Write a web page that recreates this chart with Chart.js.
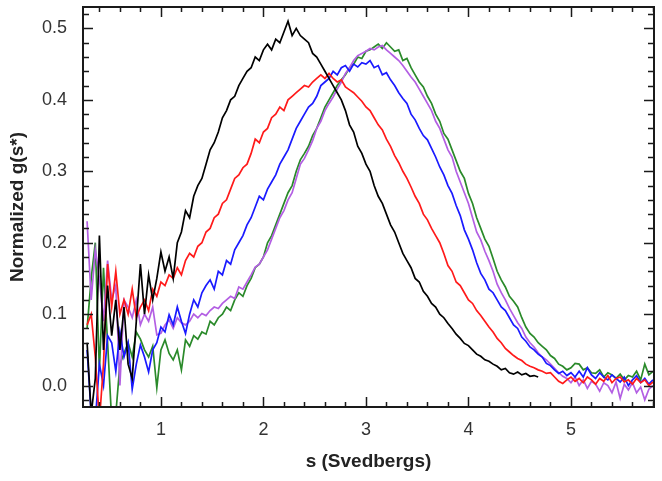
<!DOCTYPE html>
<html>
<head>
<meta charset="utf-8">
<script src="https://cdn.jsdelivr.net/npm/chart.js@4.4.1/dist/chart.umd.min.js"></script>
<style>
  html, body { margin: 0; padding: 0; background: #fff; }
  #wrap { width: 662px; height: 481px; }
</style>
</head>
<body>
<div id="wrap"><canvas id="chart" width="662" height="481"></canvas></div>
<script>
// sedimentation coefficient grid (S)
const sValues = [
  0.28, 0.32, 0.36, 0.40, 0.44, 0.48, 0.52, 0.56, 0.60, 0.64,
  0.68, 0.72, 0.76, 0.80, 0.84, 0.88, 0.92, 0.96, 1.00, 1.04,
  1.08, 1.12, 1.16, 1.20, 1.24, 1.28, 1.32, 1.36, 1.40, 1.44,
  1.48, 1.52, 1.56, 1.60, 1.64, 1.68, 1.72, 1.76, 1.80, 1.84,
  1.88, 1.92, 1.96, 2.00, 2.04, 2.08, 2.12, 2.16, 2.20, 2.24,
  2.28, 2.32, 2.36, 2.40, 2.44, 2.48, 2.52, 2.56, 2.60, 2.64,
  2.68, 2.72, 2.76, 2.80, 2.84, 2.88, 2.92, 2.96, 3.00, 3.04,
  3.08, 3.12, 3.16, 3.20, 3.24, 3.28, 3.32, 3.36, 3.40, 3.44,
  3.48, 3.52, 3.56, 3.60, 3.64, 3.68, 3.72, 3.76, 3.80, 3.84,
  3.88, 3.92, 3.96, 4.00, 4.04, 4.08, 4.12, 4.16, 4.20, 4.24,
  4.28, 4.32, 4.36, 4.40, 4.44, 4.48, 4.52, 4.56, 4.60, 4.64,
  4.68, 4.72, 4.76, 4.80, 4.84, 4.88, 4.92, 4.96, 5.00, 5.04,
  5.08, 5.12, 5.16, 5.20, 5.24, 5.28, 5.32, 5.36, 5.40, 5.44,
  5.48, 5.52, 5.56, 5.60, 5.64, 5.68, 5.72, 5.76, 5.80
];

const blackCurve = [
  0.06, -0.04, 0.01, 0.21, 0.05, 0.14, 0.07, 0.12, 0.05, 0.11,
  0.03, 0.01, 0.09, 0.17, 0.10, 0.155, 0.12, 0.15, 0.187, 0.16,
  0.18, 0.15, 0.20, 0.215, 0.245, 0.235, 0.265, 0.28, 0.29, 0.31,
  0.33, 0.34, 0.355, 0.375, 0.385, 0.40, 0.405, 0.42, 0.43, 0.44,
  0.445, 0.46, 0.455, 0.47, 0.478, 0.47, 0.485, 0.48, 0.495, 0.51,
  0.49, 0.50, 0.49, 0.485, 0.48, 0.465, 0.46, 0.45, 0.44, 0.43,
  0.42, 0.41, 0.40, 0.385, 0.365, 0.355, 0.335, 0.325, 0.31, 0.30,
  0.28, 0.265, 0.255, 0.24, 0.225, 0.215, 0.20, 0.185, 0.175, 0.165,
  0.15, 0.145, 0.132, 0.125, 0.115, 0.11, 0.10, 0.095, 0.087, 0.08,
  0.072, 0.066, 0.059, 0.056, 0.05, 0.044, 0.041, 0.036, 0.034, 0.03,
  0.027, 0.022, 0.024, 0.018, 0.016, 0.019, 0.015, 0.017, 0.013, 0.014,
  0.012, null, null, null, null, null, null, null, null, null,
  null, null, null, null, null, null, null, null, null, null,
  null, null, null, null, null, null, null, null, null
];

const redCurve = [
  0.085, 0.10, 0.04, -0.05, 0.03, 0.17, 0.11, 0.16, 0.10, 0.12,
  0.10, 0.135, 0.095, 0.11, 0.12, 0.105, 0.135, 0.125, 0.145, 0.14,
  0.155, 0.15, 0.165, 0.155, 0.175, 0.185, 0.18, 0.195, 0.20, 0.215,
  0.22, 0.235, 0.24, 0.255, 0.26, 0.275, 0.29, 0.295, 0.305, 0.31,
  0.325, 0.345, 0.34, 0.355, 0.36, 0.375, 0.38, 0.39, 0.385, 0.40,
  0.405, 0.41, 0.415, 0.42, 0.418, 0.425, 0.43, 0.435, 0.43, 0.437,
  0.43, 0.425, 0.428, 0.418, 0.414, 0.41, 0.404, 0.398, 0.39, 0.385,
  0.375, 0.365, 0.358, 0.345, 0.335, 0.322, 0.312, 0.30, 0.29, 0.278,
  0.265, 0.255, 0.24, 0.232, 0.22, 0.21, 0.20, 0.185, 0.168, 0.16,
  0.145, 0.14, 0.13, 0.12, 0.115, 0.105, 0.098, 0.09, 0.082, 0.075,
  0.066, 0.06, 0.052, 0.047, 0.042, 0.038, 0.035, 0.03, 0.027, 0.025,
  0.022, 0.02, 0.017, 0.018, 0.012, 0.006, 0.003, 0.008, 0.012, 0.006,
  0.01, 0.004, 0.012, 0.008, 0.002, 0.01, 0.006, 0.014, 0.004, 0.01,
  0.012, 0.005, 0.008, 0.002, 0.01, 0.004, 0.008, 0.0, 0.005
];

const blueCurve = [
  0.05, -0.04, -0.05, 0.03, 0.0, 0.07, 0.06, 0.02, 0.075, 0.04,
  0.06, -0.005, 0.03, 0.057, 0.04, 0.019, 0.05, 0.06, 0.082, 0.075,
  0.099, 0.085, 0.11, 0.09, 0.073, 0.10, 0.12, 0.11, 0.13, 0.14,
  0.148, 0.135, 0.16, 0.155, 0.175, 0.17, 0.19, 0.20, 0.21, 0.225,
  0.235, 0.25, 0.265, 0.26, 0.275, 0.285, 0.295, 0.31, 0.32, 0.33,
  0.345, 0.36, 0.37, 0.38, 0.39, 0.395, 0.405, 0.42, 0.425, 0.43,
  0.44, 0.435, 0.445, 0.448, 0.44, 0.45, 0.446, 0.452, 0.45, 0.455,
  0.445, 0.448, 0.435, 0.438, 0.428, 0.42, 0.41, 0.402, 0.395, 0.38,
  0.372, 0.36, 0.35, 0.344, 0.332, 0.32, 0.306, 0.295, 0.28, 0.269,
  0.252, 0.238, 0.218, 0.205, 0.19, 0.172, 0.157, 0.148, 0.135, 0.13,
  0.12, 0.11, 0.105, 0.095, 0.085, 0.08, 0.068, 0.062, 0.054, 0.05,
  0.044, 0.04, 0.031, 0.028, 0.022, 0.017, 0.02, 0.014, 0.018, 0.012,
  0.02, 0.012, 0.025, 0.015, 0.01, 0.018, 0.012, 0.008, 0.015, 0.01,
  0.005, 0.012, 0.0, 0.008, 0.014, 0.004, 0.01, 0.002, 0.008
];

const greenCurve = [
  0.08, 0.15, 0.20, 0.02, 0.165, 0.06, -0.05, -0.04, 0.03, 0.045,
  0.06, 0.04, 0.075, 0.065, 0.05, 0.04, 0.055, -0.003, 0.05, 0.064,
  0.045, 0.036, 0.05, 0.022, 0.064, 0.055, 0.07, 0.065, 0.075, 0.072,
  0.09, 0.085, 0.095, 0.10, 0.11, 0.105, 0.12, 0.13, 0.125, 0.14,
  0.15, 0.165, 0.17, 0.18, 0.20, 0.21, 0.225, 0.24, 0.255, 0.27,
  0.28, 0.30, 0.316, 0.325, 0.335, 0.35, 0.36, 0.375, 0.39, 0.40,
  0.41, 0.42, 0.428, 0.435, 0.445, 0.45, 0.46, 0.458, 0.468, 0.47,
  0.474, 0.478, 0.472, 0.48, 0.474, 0.468, 0.47, 0.455, 0.458, 0.445,
  0.435, 0.425, 0.418, 0.405, 0.395, 0.38, 0.37, 0.353, 0.345, 0.33,
  0.315, 0.30, 0.29, 0.269, 0.255, 0.235, 0.22, 0.205, 0.195, 0.178,
  0.16, 0.148, 0.138, 0.125, 0.118, 0.11, 0.095, 0.082, 0.073, 0.068,
  0.06, 0.055, 0.05, 0.042, 0.038, 0.03, 0.027, 0.022, 0.025, 0.031,
  0.03, 0.022, 0.025, 0.018, 0.017, 0.022, 0.012, 0.018, 0.015, 0.01,
  0.016, 0.008, 0.014, 0.012, 0.02, 0.008, 0.03, 0.015, 0.02
];

const purpleCurve = [
  0.23, 0.12, 0.19, 0.15, 0.09, 0.175, 0.12, 0.14, 0.0, 0.12,
  0.11, 0.095, 0.12, 0.085, 0.10, 0.09, 0.11, 0.071, 0.073, 0.085,
  0.092, 0.08, 0.095, 0.088, 0.085, 0.09, 0.10, 0.095, 0.101, 0.098,
  0.105, 0.11, 0.108, 0.115, 0.12, 0.125, 0.122, 0.138, 0.135, 0.145,
  0.155, 0.166, 0.17, 0.18, 0.19, 0.205, 0.22, 0.235, 0.245, 0.26,
  0.27, 0.29, 0.31, 0.318, 0.33, 0.343, 0.36, 0.37, 0.385, 0.395,
  0.404, 0.415, 0.425, 0.437, 0.445, 0.455, 0.462, 0.465, 0.468, 0.472,
  0.47, 0.474, 0.476, 0.47, 0.465, 0.46, 0.455, 0.448, 0.44, 0.432,
  0.425, 0.415, 0.405, 0.395, 0.385, 0.37, 0.36, 0.345, 0.33, 0.32,
  0.30, 0.285, 0.27, 0.255, 0.235, 0.215, 0.204, 0.188, 0.175, 0.16,
  0.142, 0.13, 0.12, 0.108, 0.098, 0.088, 0.08, 0.068, 0.06, 0.054,
  0.046, 0.04, 0.036, 0.03, 0.024, 0.018, 0.013, 0.01, 0.004, 0.012,
  0.0, 0.008, -0.004, 0.006, 0.002, -0.008, 0.004, 0.0, -0.01, 0.005,
  -0.018, 0.002, -0.006, 0.004, -0.01, -0.002, -0.02, -0.005, 0.0
];

const xTickLabels = [1, 2, 3, 4, 5];
const yTickLabels = [0.0, 0.1, 0.2, 0.3, 0.4, 0.5];

const toPoints = (ys) => sValues.map((s, i) => ({ x: s, y: ys[i] })).filter(p => p.y !== null);

const FONT = "'Liberation Sans', Arial, Helvetica, sans-serif";

// inward ticks on all four sides + frame
const frameTicks = {
  id: "frameTicks",
  afterDatasetsDraw(chart) {
    const { ctx, chartArea: a, scales: { x, y } } = chart;
    ctx.save();
    ctx.strokeStyle = "#1a1a1a";
    ctx.lineWidth = 1.5;
    ctx.beginPath();
    for (let v = 0.4; v <= 5.81; v += 0.2) {
      const px = Math.round(x.getPixelForValue(v)) + 0.5;
      const major = Math.abs(v - Math.round(v)) < 1e-6;
      const len = major ? 10 : 5;
      ctx.moveTo(px, a.bottom); ctx.lineTo(px, a.bottom - len);
      ctx.moveTo(px, a.top); ctx.lineTo(px, a.top + len);
    }
    for (let i = -1; i <= 26; i++) {
      const v = i * 0.02;
      if (v < -0.03 || v > 0.53) continue;
      const py = Math.round(y.getPixelForValue(v)) + 0.5;
      const len = i % 5 === 0 ? 10 : 6;
      ctx.moveTo(a.left, py); ctx.lineTo(a.left + len, py);
      ctx.moveTo(a.right, py); ctx.lineTo(a.right - len, py);
    }
    ctx.stroke();
    ctx.lineWidth = 2;
    ctx.strokeRect(a.left, a.top, a.right - a.left, a.bottom - a.top);
    ctx.restore();
  }
};

const line = (label, color, ys) => ({
  label,
  data: toPoints(ys),
  borderColor: color,
  backgroundColor: color,
  borderWidth: 1.7,
  pointRadius: 0,
  tension: 0,
  fill: false
});

new Chart(document.getElementById("chart"), {
  type: "line",
  data: {
    datasets: [
      line("black", "#000000", blackCurve),
      line("red", "#ff1a1a", redCurve),
      line("blue", "#1a1aff", blueCurve),
      line("purple", "#b35fe3", purpleCurve),
      line("green", "#2a8a2a", greenCurve)
    ]
  },
  options: {
    responsive: false,
    animation: false,
    layout: { padding: { left: 0, right: 8, top: 7, bottom: 0 } },
    plugins: { legend: { display: false }, tooltip: { enabled: false } },
    scales: {
      x: {
        type: "linear",
        min: 0.24,
        max: 5.81,
        grid: { display: false, drawTicks: false },
        border: { display: false },
        afterBuildTicks: (scale) => { scale.ticks = xTickLabels.map(v => ({ value: v })); },
        afterFit: (scale) => { scale.height = 74; scale.paddingLeft = 0; scale.paddingRight = 0; },
        ticks: {
          padding: 12,
          color: "#333",
          font: { family: FONT, size: 18 },
          maxRotation: 0,
          callback: (v) => String(v)
        },
        title: {
          display: true,
          text: "s (Svedbergs)",
          color: "#222",
          font: { family: FONT, size: 19, weight: "bold" },
          padding: { top: 0, bottom: 8 }
        }
      },
      y: {
        min: -0.03,
        max: 0.53,
        grid: { display: false, drawTicks: false },
        border: { display: false },
        afterBuildTicks: (scale) => { scale.ticks = yTickLabels.map(v => ({ value: v })); },
        afterFit: (scale) => { scale.width = 83; scale.paddingTop = 0; scale.paddingBottom = 0; },
        ticks: {
          padding: 16,
          color: "#333",
          font: { family: FONT, size: 18 },
          callback: (v) => Number(v).toFixed(1)
        },
        title: {
          display: true,
          text: "Normalized g(s*)",
          color: "#222",
          font: { family: FONT, size: 19, weight: "bold" },
          padding: { top: 6, bottom: 0 }
        }
      }
    }
  },
  plugins: [frameTicks]
});
</script>
</body>
</html>
